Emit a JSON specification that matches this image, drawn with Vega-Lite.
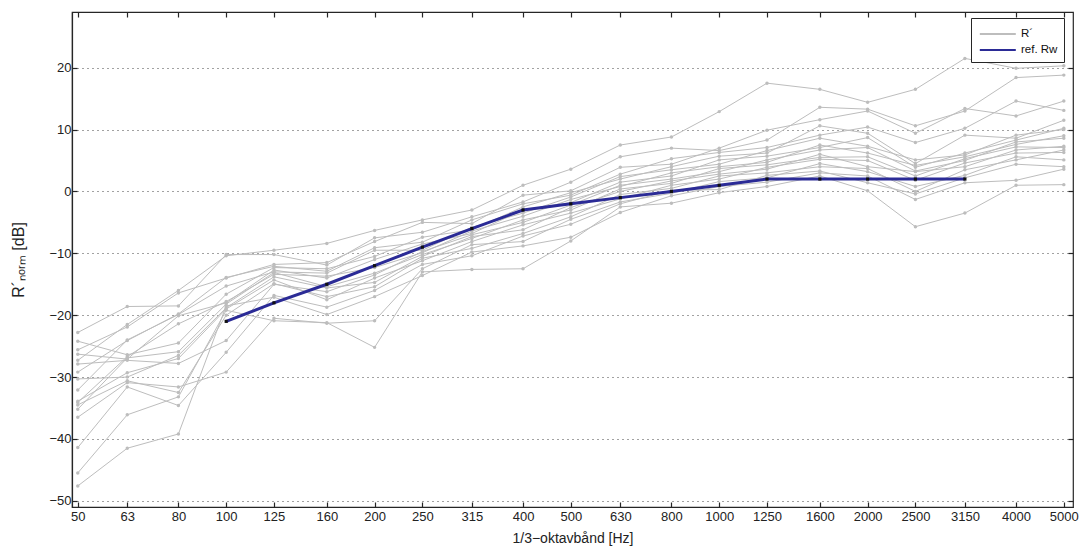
{
"$schema": "https://vega.github.io/schema/vega-lite/v6.json",
"width": 1001, "height": 495,
"autosize": {"type": "none"},
"padding": {"left": 72, "top": 12, "right": 12, "bottom": 43},
"background": "white",
"config": {"font": "Liberation Sans", "view": {"stroke": "#262626", "strokeWidth": 1.2},
  "legend": {"orient": "none", "legendX": 899, "legendY": 6, "strokeColor": "#262626", "fillColor": "white", "padding": 6, "labelFontSize": 11.5, "labelColor": "#111", "symbolType": "M-0.8,0H3.2", "symbolSize": 324, "symbolStrokeWidth": 2, "rowPadding": 0, "labelOffset": 24}},
"datasets": {
"gray": [
{"s":1,"f":50,"v":-27.3},{"s":1,"f":63,"v":-21.5},{"s":1,"f":80,"v":-16.0},{"s":1,"f":100,"v":-10.4},{"s":1,"f":125,"v":-9.5},{"s":1,"f":160,"v":-8.4},{"s":1,"f":200,"v":-6.3},{"s":1,"f":250,"v":-4.6},{"s":1,"f":315,"v":-3.0},{"s":1,"f":400,"v":1.0},{"s":1,"f":500,"v":3.6},{"s":1,"f":630,"v":7.5},{"s":1,"f":800,"v":8.8},{"s":1,"f":1000,"v":12.9},{"s":1,"f":1250,"v":17.5},{"s":1,"f":1600,"v":16.5},{"s":1,"f":2000,"v":14.4},{"s":1,"f":2500,"v":16.5},{"s":1,"f":3150,"v":21.5},{"s":1,"f":4000,"v":19.9},{"s":1,"f":5000,"v":20.3},
{"s":2,"f":50,"v":-22.8},{"s":2,"f":63,"v":-18.6},{"s":2,"f":80,"v":-18.5},{"s":2,"f":100,"v":-10.2},{"s":2,"f":125,"v":-10.2},{"s":2,"f":160,"v":-11.9},{"s":2,"f":200,"v":-7.5},{"s":2,"f":250,"v":-6.6},{"s":2,"f":315,"v":-4.1},{"s":2,"f":400,"v":-1.7},{"s":2,"f":500,"v":1.5},{"s":2,"f":630,"v":5.6},{"s":2,"f":800,"v":7.0},{"s":2,"f":1000,"v":6.6},{"s":2,"f":1250,"v":8.3},{"s":2,"f":1600,"v":13.6},{"s":2,"f":2000,"v":13.3},{"s":2,"f":2500,"v":10.6},{"s":2,"f":3150,"v":13.0},{"s":2,"f":4000,"v":18.4},{"s":2,"f":5000,"v":18.8},
{"s":3,"f":50,"v":-25.6},{"s":3,"f":63,"v":-21.9},{"s":3,"f":80,"v":-16.4},{"s":3,"f":100,"v":-14.0},{"s":3,"f":125,"v":-11.8},{"s":3,"f":160,"v":-11.5},{"s":3,"f":200,"v":-8.1},{"s":3,"f":250,"v":-5.0},{"s":3,"f":315,"v":-5.2},{"s":3,"f":400,"v":-0.6},{"s":3,"f":500,"v":0.1},{"s":3,"f":630,"v":3.9},{"s":3,"f":800,"v":4.4},{"s":3,"f":1000,"v":7.0},{"s":3,"f":1250,"v":9.9},{"s":3,"f":1600,"v":11.6},{"s":3,"f":2000,"v":13.0},{"s":3,"f":2500,"v":9.4},{"s":3,"f":3150,"v":13.4},{"s":3,"f":4000,"v":12.2},{"s":3,"f":5000,"v":14.6},
{"s":4,"f":50,"v":-29.2},{"s":4,"f":63,"v":-24.1},{"s":4,"f":80,"v":-19.8},{"s":4,"f":100,"v":-13.9},{"s":4,"f":125,"v":-12.1},{"s":4,"f":160,"v":-12.9},{"s":4,"f":200,"v":-9.1},{"s":4,"f":250,"v":-8.2},{"s":4,"f":315,"v":-4.6},{"s":4,"f":400,"v":-2.0},{"s":4,"f":500,"v":-0.6},{"s":4,"f":630,"v":2.8},{"s":4,"f":800,"v":5.3},{"s":4,"f":1000,"v":6.3},{"s":4,"f":1250,"v":7.1},{"s":4,"f":1600,"v":9.1},{"s":4,"f":2000,"v":10.4},{"s":4,"f":2500,"v":7.9},{"s":4,"f":3150,"v":10.2},{"s":4,"f":4000,"v":14.6},{"s":4,"f":5000,"v":13.1},
{"s":5,"f":50,"v":-24.2},{"s":5,"f":63,"v":-26.4},{"s":5,"f":80,"v":-24.5},{"s":5,"f":100,"v":-16.6},{"s":5,"f":125,"v":-12.3},{"s":5,"f":160,"v":-12.5},{"s":5,"f":200,"v":-10.5},{"s":5,"f":250,"v":-7.4},{"s":5,"f":315,"v":-6.2},{"s":5,"f":400,"v":-2.5},{"s":5,"f":500,"v":-0.2},{"s":5,"f":630,"v":2.0},{"s":5,"f":800,"v":4.0},{"s":5,"f":1000,"v":5.7},{"s":5,"f":1250,"v":6.2},{"s":5,"f":1600,"v":10.6},{"s":5,"f":2000,"v":9.4},{"s":5,"f":2500,"v":4.5},{"s":5,"f":3150,"v":9.1},{"s":5,"f":4000,"v":8.6},{"s":5,"f":5000,"v":11.5},
{"s":6,"f":50,"v":-32.1},{"s":6,"f":63,"v":-24.0},{"s":6,"f":80,"v":-19.9},{"s":6,"f":100,"v":-15.3},{"s":6,"f":125,"v":-13.0},{"s":6,"f":160,"v":-13.2},{"s":6,"f":200,"v":-9.5},{"s":6,"f":250,"v":-9.5},{"s":6,"f":315,"v":-5.8},{"s":6,"f":400,"v":-3.5},{"s":6,"f":500,"v":-0.9},{"s":6,"f":630,"v":2.4},{"s":6,"f":800,"v":3.5},{"s":6,"f":1000,"v":4.4},{"s":6,"f":1250,"v":6.6},{"s":6,"f":1600,"v":8.6},{"s":6,"f":2000,"v":7.3},{"s":6,"f":2500,"v":5.1},{"s":6,"f":3150,"v":5.9},{"s":6,"f":4000,"v":9.1},{"s":6,"f":5000,"v":10.0},
{"s":7,"f":50,"v":-26.3},{"s":7,"f":63,"v":-27.1},{"s":7,"f":80,"v":-20.1},{"s":7,"f":100,"v":-18.0},{"s":7,"f":125,"v":-12.7},{"s":7,"f":160,"v":-14.0},{"s":7,"f":200,"v":-11.0},{"s":7,"f":250,"v":-8.5},{"s":7,"f":315,"v":-6.8},{"s":7,"f":400,"v":-3.0},{"s":7,"f":500,"v":-1.8},{"s":7,"f":630,"v":1.5},{"s":7,"f":800,"v":2.5},{"s":7,"f":1000,"v":5.1},{"s":7,"f":1250,"v":5.7},{"s":7,"f":1600,"v":7.1},{"s":7,"f":2000,"v":8.7},{"s":7,"f":2500,"v":3.9},{"s":7,"f":3150,"v":6.2},{"s":7,"f":4000,"v":8.3},{"s":7,"f":5000,"v":10.2},
{"s":8,"f":50,"v":-34.1},{"s":8,"f":63,"v":-26.7},{"s":8,"f":80,"v":-21.4},{"s":8,"f":100,"v":-17.8},{"s":8,"f":125,"v":-13.4},{"s":8,"f":160,"v":-13.7},{"s":8,"f":200,"v":-12.3},{"s":8,"f":250,"v":-9.9},{"s":8,"f":315,"v":-6.4},{"s":8,"f":400,"v":-4.0},{"s":8,"f":500,"v":-1.3},{"s":8,"f":630,"v":0.8},{"s":8,"f":800,"v":3.0},{"s":8,"f":1000,"v":4.0},{"s":8,"f":1250,"v":4.7},{"s":8,"f":1600,"v":7.5},{"s":8,"f":2000,"v":6.2},{"s":8,"f":2500,"v":4.2},{"s":8,"f":3150,"v":5.6},{"s":8,"f":4000,"v":7.6},{"s":8,"f":5000,"v":9.0},
{"s":9,"f":50,"v":-27.9},{"s":9,"f":63,"v":-27.3},{"s":9,"f":80,"v":-27.8},{"s":9,"f":100,"v":-24.1},{"s":9,"f":125,"v":-15.0},{"s":9,"f":160,"v":-16.2},{"s":9,"f":200,"v":-13.5},{"s":9,"f":250,"v":-9.7},{"s":9,"f":315,"v":-7.0},{"s":9,"f":400,"v":-5.0},{"s":9,"f":500,"v":-2.2},{"s":9,"f":630,"v":1.0},{"s":9,"f":800,"v":2.0},{"s":9,"f":1000,"v":3.2},{"s":9,"f":1250,"v":5.1},{"s":9,"f":1600,"v":6.7},{"s":9,"f":2000,"v":7.1},{"s":9,"f":2500,"v":3.3},{"s":9,"f":3150,"v":5.0},{"s":9,"f":4000,"v":8.0},{"s":9,"f":5000,"v":8.6},
{"s":10,"f":50,"v":-35.2},{"s":10,"f":63,"v":-26.9},{"s":10,"f":80,"v":-25.9},{"s":10,"f":100,"v":-18.2},{"s":10,"f":125,"v":-13.1},{"s":10,"f":160,"v":-15.4},{"s":10,"f":200,"v":-13.2},{"s":10,"f":250,"v":-10.2},{"s":10,"f":315,"v":-7.6},{"s":10,"f":400,"v":-4.6},{"s":10,"f":500,"v":-3.0},{"s":10,"f":630,"v":0.4},{"s":10,"f":800,"v":1.3},{"s":10,"f":1000,"v":3.7},{"s":10,"f":1250,"v":4.3},{"s":10,"f":1600,"v":5.5},{"s":10,"f":2000,"v":5.6},{"s":10,"f":2500,"v":2.5},{"s":10,"f":3150,"v":5.3},{"s":10,"f":4000,"v":7.2},{"s":10,"f":5000,"v":7.1},
{"s":11,"f":50,"v":-30.3},{"s":11,"f":63,"v":-30.0},{"s":11,"f":80,"v":-26.5},{"s":11,"f":100,"v":-18.8},{"s":11,"f":125,"v":-13.8},{"s":11,"f":160,"v":-15.6},{"s":11,"f":200,"v":-14.7},{"s":11,"f":250,"v":-10.5},{"s":11,"f":315,"v":-7.3},{"s":11,"f":400,"v":-6.2},{"s":11,"f":500,"v":-2.6},{"s":11,"f":630,"v":0.0},{"s":11,"f":800,"v":1.7},{"s":11,"f":1000,"v":2.8},{"s":11,"f":1250,"v":3.6},{"s":11,"f":1600,"v":6.0},{"s":11,"f":2000,"v":4.0},{"s":11,"f":2500,"v":3.2},{"s":11,"f":3150,"v":4.0},{"s":11,"f":4000,"v":6.7},{"s":11,"f":5000,"v":7.3},
{"s":12,"f":50,"v":-33.9},{"s":12,"f":63,"v":-29.3},{"s":12,"f":80,"v":-27.0},{"s":12,"f":100,"v":-19.0},{"s":12,"f":125,"v":-14.3},{"s":12,"f":160,"v":-17.5},{"s":12,"f":200,"v":-14.0},{"s":12,"f":250,"v":-11.2},{"s":12,"f":315,"v":-8.1},{"s":12,"f":400,"v":-5.4},{"s":12,"f":500,"v":-3.5},{"s":12,"f":630,"v":-1.2},{"s":12,"f":800,"v":1.0},{"s":12,"f":1000,"v":2.0},{"s":12,"f":1250,"v":3.9},{"s":12,"f":1600,"v":5.2},{"s":12,"f":2000,"v":5.0},{"s":12,"f":2500,"v":1.8},{"s":12,"f":3150,"v":4.6},{"s":12,"f":4000,"v":6.2},{"s":12,"f":5000,"v":6.3},
{"s":13,"f":50,"v":-34.5},{"s":13,"f":63,"v":-30.6},{"s":13,"f":80,"v":-32.5},{"s":13,"f":100,"v":-20.0},{"s":13,"f":125,"v":-14.9},{"s":13,"f":160,"v":-17.0},{"s":13,"f":200,"v":-15.4},{"s":13,"f":250,"v":-10.8},{"s":13,"f":315,"v":-9.2},{"s":13,"f":400,"v":-6.8},{"s":13,"f":500,"v":-4.1},{"s":13,"f":630,"v":-0.5},{"s":13,"f":800,"v":0.5},{"s":13,"f":1000,"v":2.5},{"s":13,"f":1250,"v":3.0},{"s":13,"f":1600,"v":4.0},{"s":13,"f":2000,"v":3.7},{"s":13,"f":2500,"v":0.0},{"s":13,"f":3150,"v":3.5},{"s":13,"f":4000,"v":5.1},{"s":13,"f":5000,"v":6.7},
{"s":14,"f":50,"v":-36.5},{"s":14,"f":63,"v":-30.9},{"s":14,"f":80,"v":-31.6},{"s":14,"f":100,"v":-29.2},{"s":14,"f":125,"v":-20.5},{"s":14,"f":160,"v":-21.3},{"s":14,"f":200,"v":-20.9},{"s":14,"f":250,"v":-12.5},{"s":14,"f":315,"v":-8.6},{"s":14,"f":400,"v":-8.1},{"s":14,"f":500,"v":-4.5},{"s":14,"f":630,"v":-1.7},{"s":14,"f":800,"v":-0.3},{"s":14,"f":1000,"v":1.6},{"s":14,"f":1250,"v":2.2},{"s":14,"f":1600,"v":4.5},{"s":14,"f":2000,"v":3.2},{"s":14,"f":2500,"v":0.8},{"s":14,"f":3150,"v":2.6},{"s":14,"f":4000,"v":5.6},{"s":14,"f":5000,"v":5.1},
{"s":15,"f":50,"v":-41.4},{"s":15,"f":63,"v":-31.6},{"s":15,"f":80,"v":-34.6},{"s":15,"f":100,"v":-26.0},{"s":15,"f":125,"v":-16.8},{"s":15,"f":160,"v":-18.7},{"s":15,"f":200,"v":-16.0},{"s":15,"f":250,"v":-11.8},{"s":15,"f":315,"v":-10.4},{"s":15,"f":400,"v":-7.2},{"s":15,"f":500,"v":-5.3},{"s":15,"f":630,"v":-2.0},{"s":15,"f":800,"v":0.2},{"s":15,"f":1000,"v":0.3},{"s":15,"f":1250,"v":2.6},{"s":15,"f":1600,"v":3.3},{"s":15,"f":2000,"v":1.4},{"s":15,"f":2500,"v":-0.4},{"s":15,"f":3150,"v":2.2},{"s":15,"f":4000,"v":4.4},{"s":15,"f":5000,"v":4.0},
{"s":16,"f":50,"v":-47.6},{"s":16,"f":63,"v":-41.5},{"s":16,"f":80,"v":-39.2},{"s":16,"f":100,"v":-18.5},{"s":16,"f":125,"v":-17.1},{"s":16,"f":160,"v":-19.9},{"s":16,"f":200,"v":-17.0},{"s":16,"f":250,"v":-13.6},{"s":16,"f":315,"v":-9.8},{"s":16,"f":400,"v":-8.8},{"s":16,"f":500,"v":-7.4},{"s":16,"f":630,"v":-3.4},{"s":16,"f":800,"v":-0.7},{"s":16,"f":1000,"v":0.8},{"s":16,"f":1250,"v":1.5},{"s":16,"f":1600,"v":3.0},{"s":16,"f":2000,"v":2.5},{"s":16,"f":2500,"v":-1.3},{"s":16,"f":3150,"v":1.4},{"s":16,"f":4000,"v":1.8},{"s":16,"f":5000,"v":3.6},
{"s":17,"f":50,"v":-45.5},{"s":17,"f":63,"v":-36.1},{"s":17,"f":80,"v":-33.2},{"s":17,"f":100,"v":-19.2},{"s":17,"f":125,"v":-20.9},{"s":17,"f":160,"v":-21.2},{"s":17,"f":200,"v":-25.2},{"s":17,"f":250,"v":-13.0},{"s":17,"f":315,"v":-12.6},{"s":17,"f":400,"v":-12.5},{"s":17,"f":500,"v":-8.0},{"s":17,"f":630,"v":-2.5},{"s":17,"f":800,"v":-1.9},{"s":17,"f":1000,"v":-0.2},{"s":17,"f":1250,"v":0.8},{"s":17,"f":1600,"v":2.5},{"s":17,"f":2000,"v":0.1},{"s":17,"f":2500,"v":-5.7},{"s":17,"f":3150,"v":-3.5},{"s":17,"f":4000,"v":1.0},{"s":17,"f":5000,"v":1.1}
],
"ref": [
{"f":100,"v":-21},{"f":125,"v":-18},{"f":160,"v":-15},{"f":200,"v":-12},{"f":250,"v":-9},{"f":315,"v":-6},{"f":400,"v":-3},{"f":500,"v":-2},{"f":630,"v":-1},{"f":800,"v":0},{"f":1000,"v":1},{"f":1250,"v":2},{"f":1600,"v":2},{"f":2000,"v":2},{"f":2500,"v":2},{"f":3150,"v":2}
]
},
"layer": [
{
 "data": {"name": "gray"},
 "mark": {"type": "line", "strokeWidth": 1},
 "encoding": {
  "x": {"field": "f", "type": "quantitative", "scale": {"type": "log", "domain": [48.67, 5219], "nice": false},
        "axis": {"values": [50,63,80,100,125,160,200,250,315,400,500,630,800,1000,1250,1600,2000,2500,3150,4000,5000], "format": "d", "title": "1/3−oktavbånd [Hz]", "grid": false, "tickSize": -5, "tickColor": "#262626", "tickWidth": 1.2, "domainColor": "#262626", "domainWidth": 1.2, "labelPadding": 8, "labelFontSize": 13, "labelColor": "#222", "titleFontSize": 14, "titleFontWeight": "normal", "titleColor": "#222", "titlePadding": 8, "labelFlush": false, "labelOverlap": false}},
  "y": {"field": "v", "type": "quantitative", "scale": {"domain": [-51, 29], "nice": false, "zero": false},
        "axis": {"values": [-50,-40,-30,-20,-10,0,10,20], "title": "R´ₙₒᵣₘ [dB]", "grid": true, "gridDash": [1, 4], "gridColor": "#444", "gridWidth": 1, "tickSize": -5, "tickColor": "#262626", "tickWidth": 1.2, "domainColor": "#262626", "domainWidth": 1.2, "labelPadding": 6, "labelFontSize": 13, "labelColor": "#222", "titleFontSize": 16, "titleFontWeight": "normal", "titleColor": "#222", "titlePadding": 22, "labelFlush": false}},
  "detail": {"field": "s", "type": "nominal"},
  "color": {"datum": "R´", "scale": {"domain": ["R´", "ref. Rw"], "range": ["#bdbdbd", "#2b2b96"]}, "legend": {"title": null}}
 }
},
{
 "data": {"name": "gray"},
 "mark": {"type": "point", "filled": true, "size": 12, "color": "#bdbdbd", "opacity": 1},
 "encoding": {
  "x": {"field": "f", "type": "quantitative", "axis": {"orient": "top", "values": [50,63,80,100,125,160,200,250,315,400,500,630,800,1000,1250,1600,2000,2500,3150,4000,5000], "labels": false, "title": null, "grid": false, "domain": false, "tickSize": -5, "tickColor": "#262626", "tickWidth": 1.2}},
  "y": {"field": "v", "type": "quantitative", "axis": {"orient": "right", "values": [-50,-40,-30,-20,-10,0,10,20], "labels": false, "title": null, "grid": false, "domain": false, "tickSize": -5, "tickColor": "#262626", "tickWidth": 1.2}}
 }
},
{
 "data": {"name": "ref"},
 "mark": {"type": "line", "strokeWidth": 3},
 "encoding": {
  "x": {"field": "f", "type": "quantitative", "axis": null},
  "y": {"field": "v", "type": "quantitative", "axis": null},
  "color": {"datum": "ref. Rw"}
 }
},
{
 "data": {"name": "ref"},
 "mark": {"type": "square", "size": 10, "color": "#111", "opacity": 1},
 "encoding": {
  "x": {"field": "f", "type": "quantitative", "axis": null},
  "y": {"field": "v", "type": "quantitative", "axis": null}
 }
}
],
"resolve": {"axis": {"x": "independent", "y": "independent"}}
}
